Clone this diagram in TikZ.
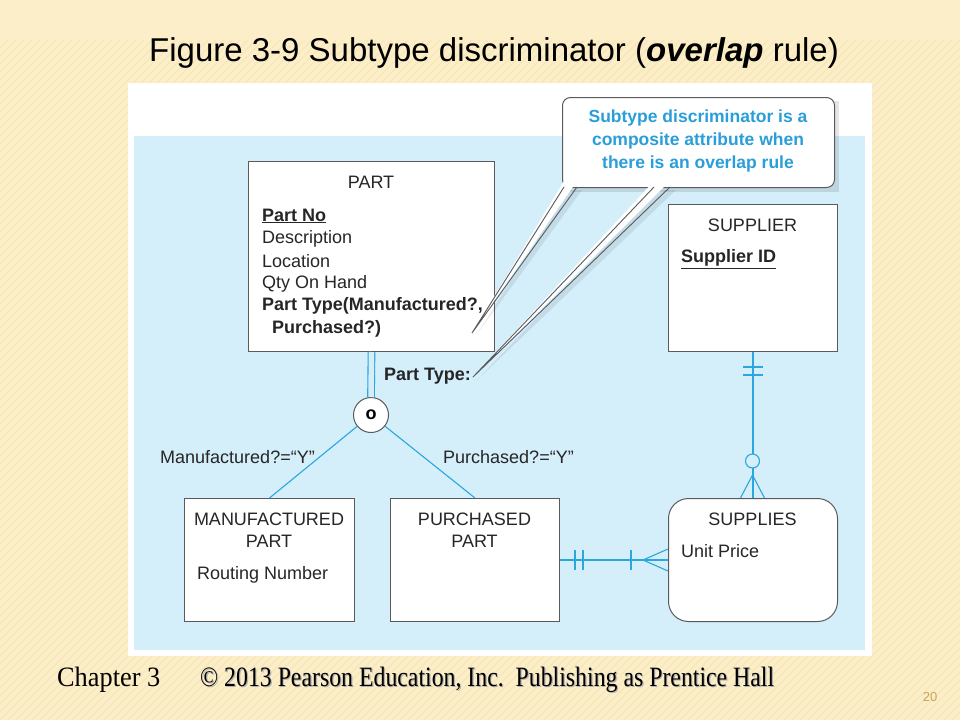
\documentclass[tikz,border=0pt]{standalone}
\usepackage{fontspec}
\setmainfont{Liberation Sans}
\newfontfamily\seriffont{Liberation Serif}
\usetikzlibrary{calc}
\definecolor{cream}{HTML}{FCEEC8}
\definecolor{stripe}{HTML}{F0DA9E}
\definecolor{panelblue}{HTML}{D4EEFA}
\definecolor{erblue}{HTML}{2BA6DF}
\definecolor{callblue}{HTML}{2A9ED8}
\definecolor{boxgray}{HTML}{5A5A5A}
\definecolor{pagenum}{HTML}{C9A45E}
\newcommand{\dfont}{\fontsize{18}{21}\selectfont}
\tikzset{
  entity/.style={draw=boxgray, line width=1pt, fill=white, inner sep=0pt},
  txt/.style={inner sep=0pt, text=black!85, font=\dfont},
  conn/.style={draw=erblue, line width=1.1pt},
}
\begin{document}
\begin{tikzpicture}[x=1pt,y=-1pt]
\useasboundingbox (0,0) rectangle (960,720);
% background
\fill[cream] (0,0) rectangle (960,720);
\begin{scope}
\clip (0,40) rectangle (960,720);
\foreach \i in {-720,-712,...,960}
  \draw[stripe, line width=1.4pt, opacity=0.35] (\i,720) -- ++(680,-680);
\end{scope}
% title
\node[font=\fontsize{33}{38}\selectfont, inner sep=0pt] (title) at (494,53)
  {Figure 3-9 Subtype discriminator (\textbf{\textit{overlap}} rule)};
% panel
\fill[white] (128,83) rectangle (872,656);
\fill[panelblue] (134,136) rectangle (865,650);
% entities
\node[entity, minimum width=246, minimum height=190, anchor=north west] (part) at (248,161) {};
\node[txt] (partT) at (371,182) {PART};
\node[txt, anchor=west] (a1) at (262,216) {\underline{\textbf{Part No}}};
\node[txt, anchor=west] (a2) at (262,239) {Description};
\node[txt, anchor=west] (a3) at (262,261) {Location};
\node[txt, anchor=west] (a4) at (262,284) {Qty On Hand};
\node[txt, anchor=west] (a5) at (262,306) {\textbf{Part Type(Manufactured?,}};
\node[txt, anchor=west] (a6) at (272,329) {\textbf{Purchased?)}};

\node[entity, minimum width=169, minimum height=147, anchor=north west] (supplier) at (668,204) {};
\node[txt] (supT) at (752.5,225) {SUPPLIER};
\node[txt, anchor=west] (s1) at (681,259) {\underline{\textbf{Supplier ID}}};

\node[entity, minimum width=170, minimum height=123, anchor=north west] (mfg) at (184,498) {};
\node[txt] (mfgT1) at (269,519) {MANUFACTURED};
\node[txt] (mfgT2) at (269,541) {PART};
\node[txt, anchor=west] (m1) at (197,575) {Routing Number};

\node[entity, minimum width=169, minimum height=123, anchor=north west] (purch) at (390,498) {};
\node[txt] (puT1) at (474.5,519) {PURCHASED};
\node[txt] (puT2) at (474.5,541) {PART};

\node[entity, rounded corners=20pt, minimum width=169, minimum height=123, anchor=north west] (supplies) at (668,498) {};
\node[txt] (spT) at (752.5,519) {SUPPLIES};
\node[txt, anchor=west] (sp1) at (681,551) {Unit Price};

% discriminator circle
\node[circle, draw=boxgray, line width=1pt, fill=white, minimum size=35, inner sep=0pt, font=\fontsize{18}{20}\selectfont\bfseries] (disc) at (371,415) {o};
\draw[conn, double=panelblue, double distance=5.5pt, line width=1.1pt] (part.south) -- (disc.north);
\node[txt, anchor=west] (pt) at (384,376) {\textbf{Part Type:}};
\draw[conn] (disc) -- (mfg.north);
\draw[conn] (disc) -- (purch.north);
\node[txt, anchor=west] (l1) at (160,457) {Manufactured?=“Y”};
\node[txt, anchor=west] (l2) at (443,457) {Purchased?=“Y”};

% SUPPLIER - SUPPLIES
\draw[conn] (supplier.south) -- (supplies.north);
\draw[conn] ($(supplier.south)+(-10,15)$) -- ++(20,0);
\draw[conn] ($(supplier.south)+(-10,23)$) -- ++(20,0);
\draw[conn, fill=panelblue] (752.5,461) circle (7);
\draw[conn] (752.5,475) -- (740.5,498);
\draw[conn] (752.5,475) -- (764.5,498);

% PURCHASED - SUPPLIES
\draw[conn] (purch.east) -- (supplies.west);
\draw[conn] ($(purch.east)+(15,-10)$) -- ++(0,20);
\draw[conn] ($(purch.east)+(23,-10)$) -- ++(0,20);
\draw[conn] ($(purch.east)+(71,-10)$) -- ++(0,20);
\draw[conn] ($(supplies.west)+(-25,0)$) -- ($(supplies.west)+(0,-11)$);
\draw[conn] ($(supplies.west)+(-25,0)$) -- ($(supplies.west)+(0,11)$);

% callout shadow
\fill[black, opacity=0.10] (566,101) rectangle (839,192);
\fill[black, opacity=0.08] (569,190) -- (475,337) -- (582,190) -- cycle;
\fill[black, opacity=0.08] (659,190) -- (476,381) -- (676,190) -- cycle;
% callout
\node[draw=boxgray, line width=1pt, fill=white, rounded corners=8pt, minimum width=272, minimum height=90, anchor=north west, inner sep=0pt] (call) at (562,97) {};
\fill[white] (564,181) -- (472,333) -- (577,181) -- cycle;
\fill[white] (654,181) -- (473,377) -- (670,181) -- cycle;
\draw[boxgray, line width=0.9pt] (564,187) -- (472,333) -- (577,187);
\draw[boxgray, line width=0.9pt] (654,187) -- (473,377) -- (670,187);
\node[font=\fontsize{17.5}{23}\selectfont\bfseries, text=callblue, align=center, inner sep=0pt] (callT) at (698,141)
  {Subtype discriminator is a\\composite attribute when\\there is an overlap rule};

% footer
\node[font=\seriffont\fontsize{28}{32}\selectfont, anchor=west, inner sep=0pt, xscale=0.94] (chap) at (57,680) {Chapter 3};
\node[font=\seriffont\fontsize{28}{32}\selectfont, anchor=west, inner sep=0pt, xscale=0.85, text=black!30] (copyS) at (201.2,681.2) {© 2013 Pearson Education, Inc.\ \ Publishing as Prentice Hall};
\node[font=\seriffont\fontsize{28}{32}\selectfont, anchor=west, inner sep=0pt, xscale=0.85] (copy) at (200,680) {© 2013 Pearson Education, Inc.\ \ Publishing as Prentice Hall};
\node[font=\fontsize{13}{15}\selectfont, text=pagenum, inner sep=0pt] (pg) at (930,697) {20};
\end{tikzpicture}
\end{document}
